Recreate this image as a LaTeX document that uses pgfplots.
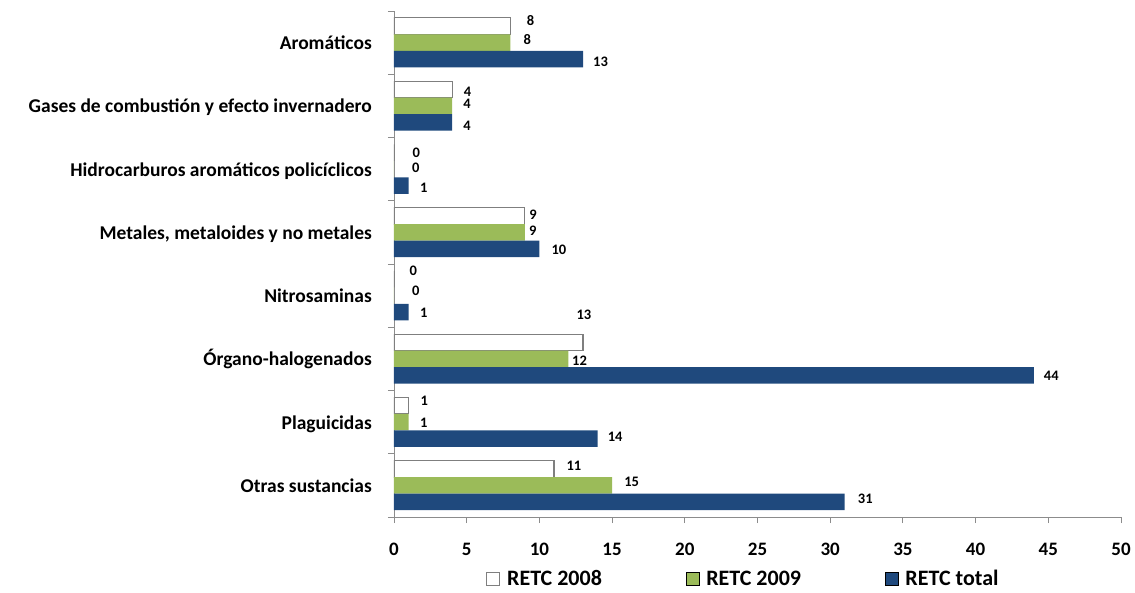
\documentclass[border=0pt]{standalone}
\usepackage{fontspec}
\setmainfont{Carlito}
\usepackage{graphicx}
\usepackage{pgfplots}
\usepackage{pgfplotstable}
\pgfplotsset{compat=1.18}
\definecolor{g09}{HTML}{9BBB59}
\definecolor{btot}{HTML}{1F497D}
\definecolor{axgray}{HTML}{8C8C8C}
\definecolor{bord}{HTML}{7F7F7F}

% cat: 7 = Aromaticos ... 0 = Otras sustancias; dx, dy = label offsets (pt)
\pgfplotstableread{
cat val dx dy
7 8 16 6
6 4 11 -2
5 0 18 -0.5
4 9 4 1.5
3 0 15 8.5
2 13 -7 27.5
1 1 11.5 5
0 11 12 3.5
}\tA
\pgfplotstableread{
cat val dx dy
7 8 13 3
6 4 11 1.6
5 0 18 1.5
4 9 4 1.5
3 0 18 5
2 12 3.5 -2
1 1 11.5 -0.5
0 15 12 4
}\tB
\pgfplotstableread{
cat val dx dy
7 13 10 -2.5
6 4 11 -3
5 1 11.5 -2
4 10 12 -0.5
3 1 11.5 -1
2 44 10 -0.5
1 14 10 1.5
0 31 13 3
}\tC

\begin{document}
\begin{tikzpicture}[x=1pt,y=1pt]
\useasboundingbox (0,0) rectangle (1135,592);
\begin{axis}[
  at={(394pt,75pt)}, anchor=south west,
  scale only axis, width=727pt, height=506pt,
  xmin=0, xmax=50, ymin=-0.5, ymax=7.5,
  xbar, bar width=16.5pt,
  axis x line=bottom, axis y line=left,
  axis line style={-, draw=axgray, line width=0.9pt},
  xtick={0,5,...,50},
  ytick={0,...,7},
  yticklabels={Otras sustancias, Plaguicidas, Órgano-halogenados, Nitrosaminas, {Metales, metaloides y no metales}, Hidrocarburos aromáticos policíclicos, Gases de combustión y efecto invernadero, Aromáticos},
  minor ytick={-0.5,0.5,...,7.5},
  major y tick style={draw=none},
  tick align=outside,
  tick style={draw=axgray, line width=0.9pt},
  major tick length=6pt, minor tick length=6pt,
  /pgf/number format/assume math mode=true,
  yticklabel style={font=\fontsize{19.5}{20}\selectfont\bfseries, anchor=base east, inner sep=0pt, xshift=-16pt, yshift=-7pt},
  xticklabel style={font=\fontsize{19}{20}\selectfont\bfseries, anchor=base, inner sep=0pt, yshift=-32pt},
  every node near coord/.append style={font=\fontsize{14.5}{15}\selectfont\bfseries, text=black, anchor=west, inner sep=0pt},
  legend columns=3,
  legend image code/.code={\draw[#1] (0pt,-6.5pt) rectangle (13pt,6.5pt);},
  legend style={at={(0.1265,0)}, anchor=west, yshift=-62pt, draw=none, fill=none,
    inner sep=0pt, outer sep=0pt, font=\fontsize{22}{22}\selectfont\bfseries,
    /tikz/every odd column/.append style={column sep=5pt},
    /tikz/every even column/.append style={column sep=82pt}},
  legend cell align=left,
]
\addplot[fill=white, draw=bord, line width=1.2pt, bar shift=16.5pt,
  nodes near coords, point meta=x,
  visualization depends on={\thisrow{dx}\as\dx},
  visualization depends on={\thisrow{dy}\as\dy},
  every node near coord/.append style={xshift=\dx pt, yshift=\dy pt}]
  table[x=val,y=cat]{\tA};
\addlegendentry{RETC 2008}
\addplot[fill=g09, draw=none, bar shift=0pt,
  nodes near coords, point meta=x,
  visualization depends on={\thisrow{dx}\as\dx},
  visualization depends on={\thisrow{dy}\as\dy},
  every node near coord/.append style={xshift=\dx pt, yshift=\dy pt}]
  table[x=val,y=cat]{\tB};
\addlegendentry{RETC 2009}
\addplot[fill=btot, draw=none, bar shift=-16.5pt,
  nodes near coords, point meta=x,
  visualization depends on={\thisrow{dx}\as\dx},
  visualization depends on={\thisrow{dy}\as\dy},
  every node near coord/.append style={xshift=\dx pt, yshift=\dy pt}]
  table[x=val,y=cat]{\tC};
\addlegendentry{RETC total}
\end{axis}
\end{tikzpicture}
\end{document}
